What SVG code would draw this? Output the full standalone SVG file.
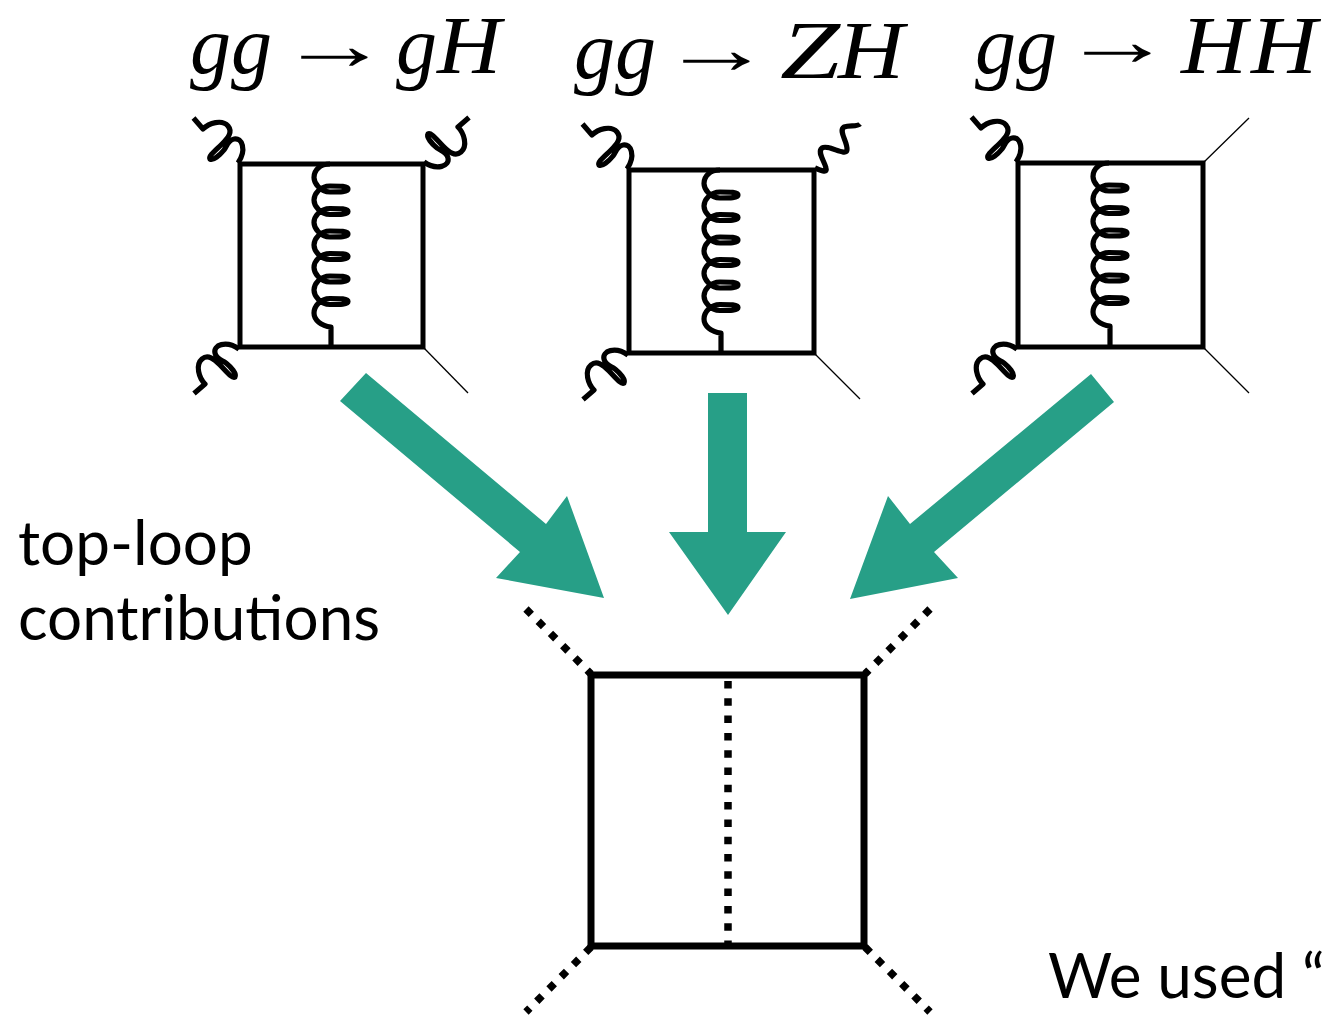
<svg xmlns="http://www.w3.org/2000/svg" xmlns:xlink="http://www.w3.org/1999/xlink" width="1323" height="1015" viewBox="0 0 1323 1015">
<style>
.m{font-family:"Liberation Serif",serif;font-style:italic;font-size:82px;fill:#000}
.a{font-family:"Liberation Serif",serif;font-size:72px;fill:#000}
.t{font-family:"Lato","Open Sans",sans-serif;font-size:62px;fill:#000}
.l{fill:none;stroke:#000;stroke-width:5}
.g{fill:none;stroke:#000;stroke-width:5.200;stroke-linejoin:round}
.h{fill:none;stroke:#000;stroke-width:1.3}
.d{fill:none;stroke:#000;stroke-width:7.500;stroke-dasharray:7.500 9.800}
.e{fill:#279f87}
</style>
<defs>
<path id="gl" class="g" d="M-46.500,-46 L-37,-35 C-31,-41 -18,-45 -12,-38 C-7,-32 -12,-26 -18,-20 C-24,-14 -32,-8 -30,-5 C-27,-3 -20,-9 -16,-14 C-13,-18 -12,-24 -6,-25 C2,-27 7,-14 -2,-1"/>
<path id="coil" class="g" d="M90,0 C80,0 74,6 74,13.500 C74,19 80,28 90,28 C100,28 108,28 108,25 C108,22 100,22 90,22 C80,22 74,30 74,36 C74,41.500 80,50.500 90,50.500 C100,50.500 108,50.500 108,47.500 C108,44.500 100,44.500 90,44.500 C80,44.500 74,52.500 74,58.500 C74,64 80,73 90,73 C100,73 108,73 108,70 C108,67 100,67 90,67 C80,67 74,75 74,81 C74,86.500 80,95.500 90,95.500 C100,95.500 108,95.500 108,92.500 C108,89.500 100,89.500 90,89.500 C80,89.500 74,97.500 74,103.500 C74,109 80,118 90,118 C100,118 108,118 108,115 C108,112 100,112 90,112 C80,112 74,120 74,126 C74,131.500 80,140.500 90,140.500 C100,140.500 108,140.500 108,137.500 C108,134.500 100,134.500 90,134.500 C80,134.500 74,142.500 74,149 C74,156 81,162 91,163 L91,183"/>
</defs>
<g id="labels">
<text class="m" x="190" y="73">gg</text><text class="a" x="278" y="69" textLength="112" lengthAdjust="spacingAndGlyphs">→</text><text class="m" x="396" y="73">g</text><text class="m" x="437" y="73" textLength="64" lengthAdjust="spacingAndGlyphs">H</text>
<text class="m" x="574" y="78">gg</text><text class="a" x="660" y="73" textLength="112" lengthAdjust="spacingAndGlyphs">→</text><text class="m" x="780" y="78" textLength="60" lengthAdjust="spacingAndGlyphs">Z</text><text class="m" x="838" y="78" textLength="66" lengthAdjust="spacingAndGlyphs">H</text>
<text class="m" x="975" y="73">gg</text><text class="a" x="1061" y="65" textLength="112" lengthAdjust="spacingAndGlyphs">→</text><text class="m" x="1181" y="73" textLength="66" lengthAdjust="spacingAndGlyphs">H</text><text class="m" x="1251" y="73" textLength="66" lengthAdjust="spacingAndGlyphs">H</text>
<text class="t" x="18" y="565">top-loop</text>
<text class="t" x="18" y="640">contributions</text>
<text class="t" x="1048" y="998">We used “</text>
</g>
<g id="diagram-gH">
<rect class="l" x="240" y="164" width="183" height="183"/>
<use xlink:href="#coil" href="#coil" transform="translate(240,164)"/>
<use xlink:href="#gl" href="#gl" transform="translate(240,164)"/>
<use xlink:href="#gl" href="#gl" transform="translate(423,164) rotate(90)"/>
<use xlink:href="#gl" href="#gl" transform="translate(240,347) rotate(-90)"/>
<path class="h" d="M423,347 L468,393"/>
</g>
<g id="diagram-ZH">
<rect class="l" x="629" y="170" width="185" height="183"/>
<use xlink:href="#coil" href="#coil" transform="translate(630,170)"/>
<use xlink:href="#gl" href="#gl" transform="translate(629,170)"/>
<use xlink:href="#gl" href="#gl" transform="translate(629,353) rotate(-90)"/>
<path class="g" d="M815,168 C820,170 828,174 826,168 C824,160 817,152 822,148 C828,144 846,157 847,150 C848,142 838,131 844,127 C850,125 857,127 860,124"/>
<path class="h" d="M814,353 L860,399"/>
</g>
<g id="diagram-HH">
<rect class="l" x="1018" y="163" width="185" height="184"/>
<use xlink:href="#coil" href="#coil" transform="translate(1019,163)"/>
<use xlink:href="#gl" href="#gl" transform="translate(1018,163)"/>
<use xlink:href="#gl" href="#gl" transform="translate(1018,347) rotate(-90)"/>
<path class="h" d="M1203,163 L1249,118 M1203,347 L1249,393"/>
</g>
<g id="connectors">
<polygon class="e" points="340,401 366,373 546,524 567,496 604,598 496,578 520,552"/>
<polygon class="e" points="708,393 747,393 747,532 786,532 728,615 669,532 708,532"/>
<polygon class="e" points="1114,402 1091,374 910,524 888,496 850,599 958,578 934,552"/>
</g>
<g id="diagram-master">
<rect x="591" y="675" width="273" height="271" fill="none" stroke="#000" stroke-width="7"/>
<path class="d" d="M728,681 L728,946"/>
<path class="d" d="M526,609 L591,674 M930,609 L865,674 M591,947 L526,1012 M865,947 L930,1012"/>
</g>
</svg>
